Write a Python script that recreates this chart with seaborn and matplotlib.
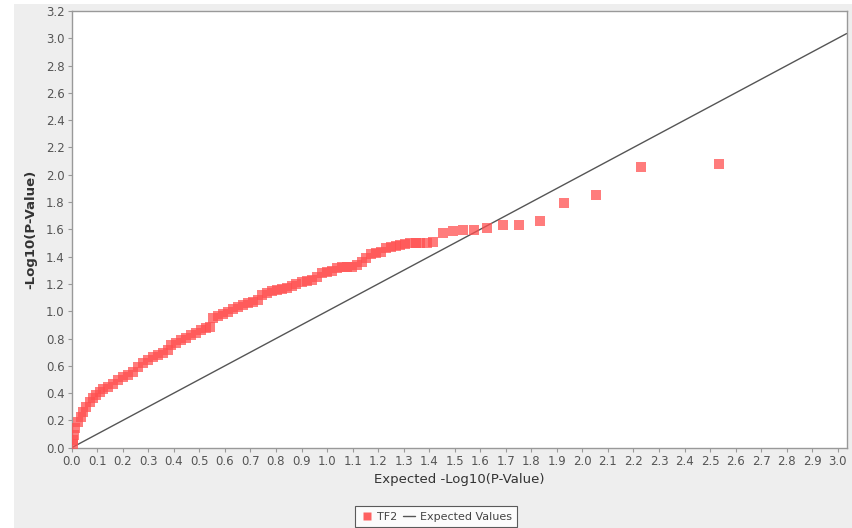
import matplotlib
matplotlib.use("Agg")
import matplotlib.pyplot as plt
import seaborn as sns
import pandas as pd
from matplotlib.patches import Rectangle
from matplotlib.lines import Line2D

expected = [0.005, 0.005, 0.009, 0.014, 0.025, 0.035, 0.044, 0.057, 0.071, 0.083,
            0.096, 0.110, 0.123, 0.142, 0.162, 0.181, 0.201, 0.221, 0.240, 0.260,
            0.279, 0.299, 0.318, 0.338, 0.358, 0.377, 0.390, 0.410, 0.429, 0.449,
            0.468, 0.488, 0.508, 0.527, 0.541, 0.553, 0.573, 0.593, 0.612, 0.632,
            0.651, 0.671, 0.691, 0.710, 0.730, 0.744, 0.764, 0.783, 0.803, 0.823,
            0.842, 0.862, 0.879, 0.901, 0.920, 0.940, 0.960, 0.979, 0.999, 1.018,
            1.038, 1.058, 1.077, 1.097, 1.116, 1.136, 1.153, 1.171, 1.192, 1.210,
            1.231, 1.251, 1.270, 1.286, 1.306, 1.325, 1.349, 1.364, 1.391, 1.416,
            1.453, 1.492, 1.532, 1.577, 1.628, 1.688, 1.753, 1.834, 1.929, 2.055,
            2.231, 2.533]
observed = [0.030, 0.056, 0.093, 0.142, 0.190, 0.227, 0.264, 0.300, 0.337, 0.362,
            0.386, 0.410, 0.428, 0.442, 0.467, 0.496, 0.520, 0.533, 0.557, 0.593,
            0.618, 0.642, 0.662, 0.677, 0.692, 0.716, 0.752, 0.769, 0.789, 0.806,
            0.826, 0.842, 0.862, 0.875, 0.886, 0.948, 0.965, 0.979, 0.996, 1.014,
            1.033, 1.045, 1.058, 1.070, 1.082, 1.119, 1.136, 1.148, 1.155, 1.160,
            1.168, 1.185, 1.197, 1.216, 1.221, 1.229, 1.253, 1.278, 1.289, 1.297,
            1.314, 1.326, 1.326, 1.326, 1.338, 1.363, 1.387, 1.417, 1.429, 1.436,
            1.461, 1.473, 1.480, 1.485, 1.492, 1.497, 1.497, 1.497, 1.502, 1.509,
            1.575, 1.588, 1.595, 1.595, 1.608, 1.630, 1.630, 1.658, 1.790, 1.853,
            2.058, 2.080]
line_x = [0.0, 3.035]
line_y = [0.0, 3.035]
x_ticks = [round(i * 0.1, 1) for i in range(31)]
y_ticks = [round(i * 0.2, 1) for i in range(17)]

series_name = "TF2"
line_name = "Expected Values"

pts = pd.DataFrame({"x": expected, "y": observed})
ln = pd.DataFrame({"x": line_x, "y": line_y})

sns.set_theme(style="white")
plt.rcParams["font.family"] = ["DejaVu Sans"]

W, H = 852, 528
fig = plt.figure(figsize=(W / 100, H / 100), dpi=100, facecolor="white")
bg = Rectangle((14 / W, 0), 1 - 14 / W, 1 - 4 / H, transform=fig.transFigure,
               facecolor="#eeeeee", edgecolor="none", zorder=-10)
fig.add_artist(bg)
ax = fig.add_axes([71.7 / W, 1 - 447.7 / H, (846.7 - 71.7) / W, (447.7 - 11) / H])
ax.set_zorder(1)
ax.set_facecolor("white")

sns.lineplot(data=ln, x="x", y="y", ax=ax, color="#555555", linewidth=1.0, zorder=2)
sns.scatterplot(data=pts, x="x", y="y", ax=ax, marker="s", s=42, color="#ff5050",
                alpha=0.75, linewidth=0, zorder=3)

ax.set_xlim(0, 3.035)
ax.set_ylim(0, 3.2)
ax.set_xticks(x_ticks)
ax.set_yticks(y_ticks)
ax.set_xticklabels([f"{v:.1f}" for v in x_ticks])
ax.set_yticklabels([f"{v:.1f}" for v in y_ticks])
ax.tick_params(axis="both", direction="out", length=3, width=0.8, color="#999999",
               labelsize=8.5, labelcolor="#555555", pad=2, bottom=True, left=True)
for sp in ax.spines.values():
    sp.set_color("#999999")
    sp.set_linewidth(1.0)

ax.set_xlabel("Expected -Log10(P-Value)", fontsize=9.5, color="#333333", labelpad=4)
ax.set_ylabel("-Log10(P-Value)", fontsize=9.5, color="#333333", fontweight="bold", labelpad=6)

handles = [Line2D([0], [0], marker="s", color="none", markerfacecolor="#ff5050",
                  markeredgecolor="none", markersize=6, alpha=0.9, label=series_name),
           Line2D([0], [0], color="#555555", linewidth=1.0, label=line_name)]
leg = fig.legend(handles=handles, loc="upper center", bbox_to_anchor=(436 / W, 1 - 506 / H),
                 ncol=2, fontsize=8, frameon=True, fancybox=False, handlelength=1.1,
                 handletextpad=0.4, columnspacing=0.5, borderpad=0.5, borderaxespad=0)
leg.get_frame().set_edgecolor("#333333")
leg.get_frame().set_linewidth(0.8)
for t in leg.get_texts():
    t.set_color("#444444")

fig.savefig("out.png", dpi=100, facecolor=fig.get_facecolor())
